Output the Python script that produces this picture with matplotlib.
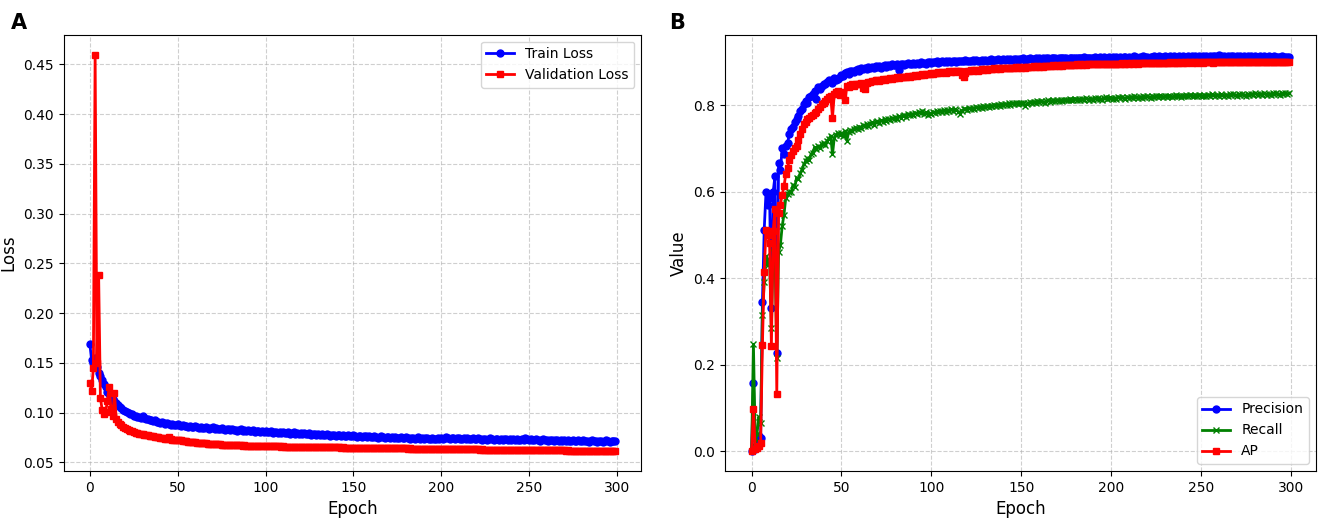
import matplotlib.pyplot as plt
import numpy as np

# per-epoch values (epochs 0..299)
train_loss = [
    0.169, 0.153, 0.150, 0.155, 0.146, 0.140, 0.137, 0.133, 0.129, 0.126,
    0.121, 0.119, 0.117, 0.114, 0.112, 0.110, 0.108, 0.106, 0.105, 0.103,
    0.102, 0.101, 0.100, 0.099, 0.099, 0.097, 0.097, 0.096, 0.096, 0.095,
    0.097, 0.095, 0.094, 0.094, 0.093, 0.093, 0.092, 0.093, 0.091, 0.091,
    0.090, 0.091, 0.090, 0.089, 0.090, 0.089, 0.088, 0.089, 0.088, 0.088,
    0.089, 0.088, 0.087, 0.088, 0.087, 0.087, 0.086, 0.087, 0.086, 0.086,
    0.087, 0.086, 0.085, 0.086, 0.085, 0.085, 0.086, 0.085, 0.084, 0.085,
    0.086, 0.084, 0.085, 0.084, 0.084, 0.085, 0.084, 0.083, 0.084, 0.084,
    0.083, 0.084, 0.083, 0.083, 0.082, 0.083, 0.084, 0.082, 0.083, 0.082,
    0.083, 0.082, 0.082, 0.083, 0.081, 0.082, 0.082, 0.081, 0.082, 0.081,
    0.082, 0.081, 0.081, 0.082, 0.080, 0.081, 0.081, 0.080, 0.081, 0.080,
    0.081, 0.080, 0.080, 0.081, 0.079, 0.080, 0.081, 0.079, 0.080, 0.079,
    0.080, 0.079, 0.080, 0.079, 0.079, 0.080, 0.078, 0.079, 0.079, 0.078,
    0.079, 0.078, 0.079, 0.078, 0.078, 0.079, 0.078, 0.077, 0.078, 0.078,
    0.077, 0.078, 0.078, 0.077, 0.078, 0.077, 0.077, 0.078, 0.077, 0.077,
    0.078, 0.077, 0.076, 0.077, 0.077, 0.076, 0.077, 0.077, 0.076, 0.077,
    0.076, 0.076, 0.077, 0.076, 0.075, 0.076, 0.077, 0.076, 0.075, 0.076,
    0.076, 0.075, 0.076, 0.075, 0.076, 0.075, 0.075, 0.076, 0.075, 0.075,
    0.076, 0.075, 0.074, 0.075, 0.075, 0.074, 0.075, 0.076, 0.074, 0.075,
    0.074, 0.075, 0.075, 0.074, 0.074, 0.075, 0.074, 0.074, 0.075, 0.074,
    0.075, 0.074, 0.075, 0.076, 0.075, 0.074, 0.075, 0.075, 0.074, 0.075,
    0.075, 0.074, 0.074, 0.075, 0.074, 0.075, 0.074, 0.074, 0.075, 0.074,
    0.074, 0.075, 0.074, 0.073, 0.074, 0.074, 0.073, 0.074, 0.075, 0.074,
    0.073, 0.074, 0.074, 0.073, 0.074, 0.073, 0.074, 0.074, 0.073, 0.074,
    0.073, 0.074, 0.073, 0.074, 0.073, 0.073, 0.074, 0.073, 0.075, 0.074,
    0.073, 0.074, 0.073, 0.073, 0.074, 0.073, 0.072, 0.073, 0.074, 0.073,
    0.073, 0.072, 0.073, 0.073, 0.072, 0.073, 0.073, 0.072, 0.073, 0.072,
    0.073, 0.072, 0.073, 0.072, 0.072, 0.073, 0.072, 0.072, 0.073, 0.072,
    0.072, 0.073, 0.072, 0.072, 0.071, 0.072, 0.073, 0.072, 0.072, 0.071,
    0.072, 0.072, 0.071, 0.072, 0.073, 0.072, 0.071, 0.072, 0.072, 0.072,
]

val_loss = [
    0.130, 0.122, 0.145, 0.460, 0.150, 0.238, 0.115, 0.103, 0.099, 0.101,
    0.112, 0.126, 0.104, 0.097, 0.120, 0.094, 0.091, 0.089, 0.088, 0.086,
    0.085, 0.084, 0.083, 0.082, 0.082, 0.081, 0.080, 0.080, 0.079, 0.079,
    0.079, 0.078, 0.078, 0.078, 0.077, 0.077, 0.077, 0.076, 0.076, 0.076,
    0.075, 0.075, 0.075, 0.074, 0.074, 0.076, 0.074, 0.073, 0.073, 0.073,
    0.0728, 0.0724, 0.0721, 0.0718, 0.0715, 0.0712, 0.0710, 0.0707, 0.0705, 0.0703,
    0.0701, 0.0699, 0.0697, 0.0695, 0.0694, 0.0692, 0.0691, 0.0689, 0.0688, 0.0687,
    0.0686, 0.0684, 0.0683, 0.0682, 0.0681, 0.0680, 0.0679, 0.0678, 0.0677, 0.0676,
    0.0675, 0.0674, 0.0673, 0.0673, 0.0672, 0.0672, 0.0671, 0.0670, 0.0671, 0.0669,
    0.0669, 0.0668, 0.0668, 0.0667, 0.0667, 0.0666, 0.0667, 0.0665, 0.0665, 0.0664,
    0.0665, 0.0664, 0.0663, 0.0663, 0.0662, 0.0663, 0.0662, 0.0661, 0.0661, 0.0660,
    0.0661, 0.0660, 0.0659, 0.0660, 0.0659, 0.0658, 0.0659, 0.0658, 0.0657, 0.0658,
    0.0657, 0.0657, 0.0656, 0.0657, 0.0656, 0.0655, 0.0656, 0.0655, 0.0655, 0.0654,
    0.0655, 0.0654, 0.0653, 0.0654, 0.0653, 0.0653, 0.0652, 0.0653, 0.0652, 0.0651,
    0.0652, 0.0651, 0.0651, 0.0650, 0.0651, 0.0650, 0.0650, 0.0649, 0.0650, 0.0649,
    0.0649, 0.0648, 0.0649, 0.0648, 0.0647, 0.0648, 0.0647, 0.0647, 0.0646, 0.0647,
    0.0646, 0.0646, 0.0645, 0.0646, 0.0645, 0.0644, 0.0645, 0.0644, 0.0644, 0.0643,
    0.0644, 0.0643, 0.0643, 0.0642, 0.0643, 0.0642, 0.0642, 0.0641, 0.0642, 0.0641,
    0.0641, 0.0640, 0.0641, 0.0640, 0.0640, 0.0639, 0.0640, 0.0639, 0.0639, 0.0638,
    0.0639, 0.0638, 0.0638, 0.0637, 0.0638, 0.0637, 0.0637, 0.0636, 0.0637, 0.0636,
    0.0636, 0.0635, 0.0636, 0.0635, 0.0635, 0.0634, 0.0635, 0.0634, 0.0634, 0.0633,
    0.0634, 0.0633, 0.0633, 0.0632, 0.0633, 0.0632, 0.0632, 0.0631, 0.0632, 0.0631,
    0.0631, 0.0631, 0.0630, 0.0631, 0.0630, 0.0630, 0.0629, 0.0630, 0.0629, 0.0629,
    0.0629, 0.0628, 0.0629, 0.0628, 0.0628, 0.0628, 0.0627, 0.0628, 0.0627, 0.0627,
    0.0627, 0.0626, 0.0627, 0.0626, 0.0626, 0.0626, 0.0625, 0.0626, 0.0625, 0.0625,
    0.0625, 0.0624, 0.0625, 0.0624, 0.0624, 0.0624, 0.0623, 0.0624, 0.0623, 0.0623,
    0.0623, 0.0622, 0.0623, 0.0622, 0.0622, 0.0622, 0.0621, 0.0622, 0.0621, 0.0621,
    0.0621, 0.0620, 0.0621, 0.0620, 0.0620, 0.0620, 0.0619, 0.0620, 0.0619, 0.0619,
    0.0619, 0.0619, 0.0618, 0.0619, 0.0618, 0.0618, 0.0618, 0.0617, 0.0618, 0.0617,
    0.0617, 0.0617, 0.0616, 0.0617, 0.0616, 0.0616, 0.0616, 0.0615, 0.0616, 0.0615,
]

precision = [
    0.000, 0.158, 0.005, 0.015, 0.035, 0.030, 0.345, 0.512, 0.599, 0.570,
    0.585, 0.330, 0.600, 0.636, 0.226, 0.667, 0.650, 0.700, 0.686, 0.705,
    0.713, 0.733, 0.744, 0.750, 0.760, 0.767, 0.775, 0.787, 0.790, 0.802,
    0.810, 0.806, 0.818, 0.822, 0.826, 0.833, 0.815, 0.841, 0.838, 0.845,
    0.850, 0.848, 0.853, 0.857, 0.855, 0.852, 0.863, 0.858, 0.860, 0.866,
    0.870, 0.868, 0.874, 0.876, 0.872, 0.878, 0.880, 0.877, 0.882, 0.884,
    0.880, 0.885, 0.883, 0.887, 0.884, 0.888, 0.886, 0.889, 0.887, 0.890,
    0.888, 0.891, 0.885, 0.890, 0.892, 0.889, 0.893, 0.891, 0.894, 0.892,
    0.893, 0.895, 0.882, 0.894, 0.896, 0.893, 0.895, 0.897, 0.894, 0.896,
    0.897, 0.895, 0.898, 0.896, 0.899, 0.897, 0.898, 0.896, 0.899, 0.900,
    0.898, 0.900, 0.899, 0.901, 0.898, 0.900, 0.902, 0.899, 0.901, 0.900,
    0.902, 0.900, 0.901, 0.903, 0.900, 0.902, 0.901, 0.903, 0.902, 0.904,
    0.901, 0.903, 0.902, 0.904, 0.902, 0.905, 0.903, 0.902, 0.904, 0.903,
    0.905, 0.903, 0.904, 0.906, 0.903, 0.905, 0.904, 0.906, 0.905, 0.904,
    0.906, 0.904, 0.907, 0.905, 0.906, 0.905, 0.907, 0.906, 0.905, 0.907,
    0.906, 0.908, 0.905, 0.907, 0.906, 0.908, 0.907, 0.906, 0.908, 0.907,
    0.909, 0.907, 0.908, 0.906, 0.908, 0.909, 0.907, 0.908, 0.910, 0.908,
    0.907, 0.909, 0.908, 0.910, 0.908, 0.909, 0.907, 0.909, 0.910, 0.908,
    0.910, 0.909, 0.908, 0.910, 0.909, 0.911, 0.909, 0.910, 0.908, 0.910,
    0.909, 0.911, 0.910, 0.909, 0.911, 0.910, 0.912, 0.910, 0.909, 0.911,
    0.910, 0.912, 0.910, 0.911, 0.909, 0.911, 0.910, 0.912, 0.911, 0.910,
    0.912, 0.910, 0.911, 0.913, 0.911, 0.910, 0.912, 0.911, 0.913, 0.911,
    0.912, 0.910, 0.912, 0.911, 0.913, 0.912, 0.911, 0.913, 0.912, 0.911,
    0.913, 0.912, 0.911, 0.913, 0.912, 0.914, 0.912, 0.911, 0.913, 0.912,
    0.913, 0.911, 0.912, 0.914, 0.912, 0.913, 0.911, 0.913, 0.912, 0.913,
    0.912, 0.914, 0.912, 0.913, 0.911, 0.913, 0.912, 0.914, 0.913, 0.912,
    0.917, 0.913, 0.912, 0.914, 0.912, 0.913, 0.912, 0.914, 0.913, 0.912,
    0.913, 0.912, 0.914, 0.912, 0.913, 0.911, 0.913, 0.912, 0.914, 0.912,
    0.913, 0.912, 0.911, 0.913, 0.912, 0.913, 0.911, 0.912, 0.913, 0.912,
    0.911, 0.913, 0.912, 0.911, 0.912, 0.913, 0.911, 0.912, 0.911, 0.911,
]

recall = [
    0.000, 0.247, 0.020, 0.040, 0.079, 0.064, 0.315, 0.390, 0.450, 0.430,
    0.440, 0.284, 0.470, 0.465, 0.215, 0.460, 0.477, 0.520, 0.547, 0.585,
    0.595, 0.600, 0.598, 0.616, 0.610, 0.632, 0.628, 0.643, 0.650, 0.663,
    0.670, 0.678, 0.672, 0.686, 0.690, 0.702, 0.698, 0.705, 0.700, 0.710,
    0.713, 0.708, 0.718, 0.722, 0.729, 0.686, 0.725, 0.732, 0.736, 0.730,
    0.735, 0.728, 0.740, 0.718, 0.738, 0.742, 0.740, 0.745, 0.748, 0.744,
    0.750, 0.748, 0.753, 0.751, 0.756, 0.752, 0.757, 0.760, 0.755, 0.761,
    0.763, 0.759, 0.765, 0.762, 0.767, 0.764, 0.769, 0.766, 0.770, 0.768,
    0.772, 0.769, 0.774, 0.771, 0.775, 0.778, 0.773, 0.779, 0.776, 0.780,
    0.778, 0.782, 0.779, 0.784, 0.781, 0.786, 0.780, 0.783, 0.778, 0.782,
    0.780, 0.784, 0.782, 0.786, 0.783, 0.787, 0.785, 0.788, 0.784, 0.789,
    0.787, 0.790, 0.786, 0.791, 0.788, 0.785, 0.780, 0.787, 0.790, 0.792,
    0.789, 0.793, 0.791, 0.794, 0.792, 0.795, 0.793, 0.796, 0.794, 0.797,
    0.795, 0.798, 0.796, 0.799, 0.797, 0.800, 0.798, 0.801, 0.799, 0.802,
    0.800, 0.803, 0.801, 0.804, 0.800, 0.805, 0.803, 0.806, 0.802, 0.805,
    0.804, 0.806, 0.798, 0.802, 0.805, 0.807, 0.804, 0.808, 0.806, 0.809,
    0.807, 0.810, 0.808, 0.806, 0.809, 0.811, 0.808, 0.810, 0.812, 0.809,
    0.811, 0.809, 0.812, 0.810, 0.813, 0.811, 0.812, 0.814, 0.811, 0.813,
    0.815, 0.812, 0.814, 0.811, 0.815, 0.813, 0.816, 0.814, 0.812, 0.815,
    0.813, 0.816, 0.814, 0.817, 0.815, 0.813, 0.816, 0.818, 0.815, 0.817,
    0.816, 0.814, 0.817, 0.815, 0.818, 0.816, 0.819, 0.817, 0.815, 0.818,
    0.816, 0.819, 0.817, 0.820, 0.818, 0.816, 0.819, 0.817, 0.820, 0.818,
    0.821, 0.819, 0.817, 0.820, 0.818, 0.821, 0.819, 0.822, 0.820, 0.818,
    0.821, 0.819, 0.822, 0.820, 0.818, 0.821, 0.823, 0.820, 0.822, 0.819,
    0.822, 0.820, 0.823, 0.821, 0.824, 0.822, 0.820, 0.823, 0.821, 0.824,
    0.822, 0.820, 0.823, 0.821, 0.824, 0.822, 0.825, 0.823, 0.821, 0.824,
    0.822, 0.825, 0.823, 0.821, 0.824, 0.822, 0.825, 0.823, 0.826, 0.824,
    0.822, 0.825, 0.823, 0.826, 0.824, 0.822, 0.825, 0.823, 0.826, 0.824,
    0.827, 0.825, 0.823, 0.826, 0.824, 0.827, 0.825, 0.823, 0.826, 0.824,
    0.827, 0.825, 0.828, 0.826, 0.824, 0.827, 0.825, 0.828, 0.826, 0.827,
]

ap = [
    0.000, 0.098, 0.005, 0.008, 0.012, 0.018, 0.246, 0.415, 0.512, 0.500,
    0.480, 0.243, 0.510, 0.560, 0.133, 0.550, 0.570, 0.593, 0.612, 0.640,
    0.655, 0.674, 0.685, 0.694, 0.700, 0.705, 0.720, 0.733, 0.745, 0.756,
    0.762, 0.767, 0.770, 0.775, 0.778, 0.781, 0.783, 0.790, 0.795, 0.802,
    0.806, 0.810, 0.814, 0.818, 0.820, 0.771, 0.826, 0.830, 0.833, 0.823,
    0.830, 0.825, 0.812, 0.845, 0.843, 0.846, 0.848, 0.845, 0.849, 0.850,
    0.848, 0.851, 0.840, 0.838, 0.852, 0.854, 0.853, 0.856, 0.855, 0.857,
    0.858, 0.856, 0.859, 0.860, 0.858, 0.861, 0.860, 0.862, 0.861, 0.863,
    0.862, 0.864, 0.863, 0.865, 0.864, 0.866, 0.865, 0.867, 0.866, 0.868,
    0.867, 0.869, 0.868, 0.870, 0.869, 0.871, 0.870, 0.872, 0.871, 0.873,
    0.874, 0.872, 0.875, 0.874, 0.876, 0.875, 0.877, 0.876, 0.875, 0.877,
    0.878, 0.876, 0.878, 0.877, 0.879, 0.878, 0.880, 0.870, 0.866, 0.875,
    0.880, 0.879, 0.881, 0.880, 0.882, 0.881, 0.880, 0.882, 0.883, 0.882,
    0.883, 0.882, 0.884, 0.883, 0.884, 0.885, 0.884, 0.885, 0.884, 0.886,
    0.885, 0.886, 0.885, 0.887, 0.886, 0.887, 0.886, 0.888, 0.887, 0.888,
    0.887, 0.888, 0.887, 0.889, 0.888, 0.889, 0.888, 0.890, 0.889, 0.890,
    0.889, 0.890, 0.889, 0.891, 0.890, 0.891, 0.890, 0.891, 0.892, 0.891,
    0.892, 0.891, 0.892, 0.891, 0.893, 0.892, 0.893, 0.892, 0.893, 0.892,
    0.893, 0.894, 0.893, 0.894, 0.893, 0.894, 0.893, 0.895, 0.894, 0.894,
    0.895, 0.894, 0.895, 0.894, 0.895, 0.894, 0.896, 0.895, 0.895, 0.896,
    0.895, 0.896, 0.895, 0.896, 0.896, 0.895, 0.897, 0.896, 0.896, 0.897,
    0.896, 0.897, 0.896, 0.897, 0.897, 0.896, 0.897, 0.898, 0.897, 0.897,
    0.898, 0.897, 0.897, 0.898, 0.897, 0.898, 0.898, 0.897, 0.898, 0.898,
    0.897, 0.898, 0.898, 0.899, 0.898, 0.898, 0.899, 0.898, 0.898, 0.899,
    0.898, 0.899, 0.898, 0.899, 0.899, 0.898, 0.899, 0.899, 0.898, 0.899,
    0.899, 0.898, 0.899, 0.899, 0.900, 0.899, 0.899, 0.898, 0.899, 0.900,
    0.899, 0.899, 0.900, 0.899, 0.899, 0.900, 0.899, 0.900, 0.899, 0.899,
    0.900, 0.899, 0.900, 0.900, 0.899, 0.900, 0.900, 0.899, 0.900, 0.900,
    0.899, 0.900, 0.900, 0.899, 0.900, 0.900, 0.900, 0.899, 0.900, 0.900,
    0.900, 0.899, 0.900, 0.900, 0.900, 0.899, 0.900, 0.900, 0.900, 0.900,
]

epochs = np.arange(len(train_loss))

fig = plt.figure(figsize=(13.25, 5.18), dpi=100)
ax1 = fig.add_axes([0.048, 0.091, 0.436, 0.842])
ax2 = fig.add_axes([0.547, 0.091, 0.446, 0.842])

lw, ms = 2, 5

ax1.plot(epochs, train_loss, color='blue', marker='o', lw=lw, ms=ms, label='Train Loss')
ax1.plot(epochs, val_loss, color='red', marker='s', lw=lw, ms=ms, label='Validation Loss')
ax1.set_xlabel('Epoch', fontsize=12)
ax1.set_ylabel('Loss', fontsize=12)
ax1.legend(loc='upper right', fontsize=10)
ax1.grid(True, linestyle='--', alpha=0.6)

ax2.plot(epochs, precision, color='blue', marker='o', lw=lw, ms=ms, label='Precision')
ax2.plot(epochs, recall, color='green', marker='x', lw=lw, ms=ms, label='Recall')
ax2.plot(epochs, ap, color='red', marker='s', lw=lw, ms=ms, label='AP')
ax2.set_xlabel('Epoch', fontsize=12)
ax2.set_ylabel('Value', fontsize=12)
ax2.legend(loc='lower right', fontsize=10)
ax2.grid(True, linestyle='--', alpha=0.6)

fig.text(0.008, 0.975, 'A', fontsize=15, fontweight='bold', va='top')
fig.text(0.505, 0.975, 'B', fontsize=15, fontweight='bold', va='top')

fig.savefig('out.png', dpi=100)
